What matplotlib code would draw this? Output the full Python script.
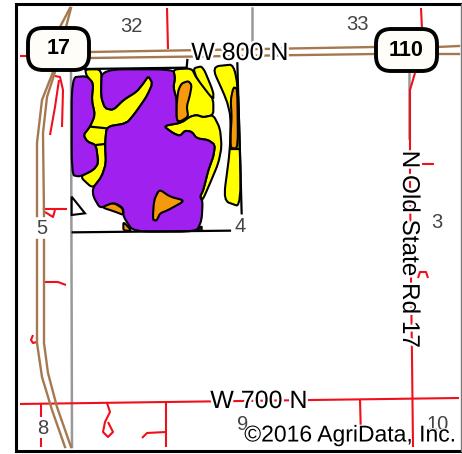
import matplotlib
matplotlib.use("Agg")
import matplotlib.pyplot as plt
import matplotlib.patheffects as pe
from matplotlib.patches import PathPatch, FancyBboxPatch
from matplotlib.path import Path

plt.rcParams['font.family'] = ['Liberation Sans', 'DejaVu Sans']

yellowAreas = [
    [(255, 208), (305, 208), (303, 290), (315, 325), (340, 330), (370, 300), (410, 275), (430, 250), (445, 228),
     (458, 250), (440, 290), (405, 340), (380, 370), (320, 380), (315, 432), (318, 490), (305, 530), (278, 565),
     (240, 530), (280, 510), (295, 490), (288, 435), (262, 425), (250, 405), (270, 380), (285, 345), (275, 300),
     (280, 250), (260, 228)],
    [(520, 208), (575, 205), (590, 235), (620, 262), (640, 300), (640, 345), (610, 352), (590, 345), (570, 350),
     (545, 368), (530, 360), (530, 300), (520, 262), (525, 235)],
    [(490, 378), (545, 368), (570, 350), (590, 345), (610, 352), (640, 345), (660, 385), (665, 440), (655, 490),
     (630, 550), (608, 600), (600, 590), (610, 570), (625, 510), (640, 470), (645, 435), (625, 420), (590, 415),
     (575, 395), (555, 392), (540, 408), (520, 400)],
    [(580, 205), (608, 198), (640, 275), (640, 300), (590, 235)],
    [(635, 200), (712, 192), (725, 622), (670, 602), (690, 450), (692, 350), (680, 300)],
]
purpleAreas = [
    [(305, 208), (520, 208), (525, 235), (520, 262), (530, 300), (530, 360), (545, 368), (490, 378), (520, 400),
     (540, 408), (555, 392), (575, 395), (590, 415), (625, 420), (645, 435), (640, 470), (625, 510), (610, 570),
     (600, 590), (608, 605), (605, 660), (590, 695), (400, 695), (370, 650), (370, 625), (345, 608), (300, 625),
     (280, 590), (278, 565), (305, 530), (318, 490), (315, 432), (320, 380), (380, 370), (405, 340), (440, 290),
     (458, 250), (445, 228), (430, 250), (410, 275), (370, 300), (340, 330), (315, 325), (303, 290)],
    [(215, 232), (260, 228), (280, 250), (275, 300), (285, 345), (270, 380), (250, 405), (262, 425), (288, 435),
     (295, 490), (280, 510), (240, 530), (215, 525)],
]
orangeAreas = [
    [(545, 250), (565, 243), (575, 255), (570, 285), (560, 320), (565, 350), (540, 365), (530, 360), (530, 310),
     (535, 270)],
    [(700, 262), (712, 265), (714, 445), (692, 445), (692, 400), (695, 350), (692, 300)],
    [(458, 660), (462, 600), (478, 568), (510, 590), (555, 602), (505, 630), (480, 640), (470, 662)],
    [(305, 622), (340, 608), (368, 625), (370, 645), (345, 635)],
    [(370, 665), (395, 692), (370, 692)],
    [(590, 692), (605, 678), (605, 692)],
]
whiteTriangle = [(215, 590), (255, 640), (215, 645)]
fieldLines = [
    [(218, 697), (690, 692)],
    [(712, 190), (725, 640)],
    [(255, 207), (560, 203), (562, 180)],
    [(272, 380), (320, 385)],
    [(288, 435), (315, 432)],
    [(692, 447), (714, 447)],
]

# already in picture pixels
roadLines = [
    [(70, 8), (60, 27)], [(53, 72), (42, 100), (37, 143), (37, 216)],
    [(37, 240), (37, 343), (42, 377), (52, 410), (65, 447)],
    [(71, 8), (66, 27)], [(55, 72), (47, 97), (43, 133), (44, 216)],
    [(44, 240), (44, 343), (48, 373), (57, 407), (71, 447)],
    [(90, 52), (375, 47)], [(90, 58), (375, 54)],
    [(437, 47), (459, 46)], [(437, 54), (459, 54)],
]
redLines = [
    [(167, 8), (168, 49)], [(20, 56), (28, 56)],
    [(55, 76), (60, 77), (63, 90), (62, 127)], [(59, 80), (55, 107), (50, 135)],
    [(43, 208), (45, 209), (67, 209)], [(45, 212), (53, 217), (55, 210)],
    [(44, 282), (58, 282), (66, 285)], [(33, 335), (31, 340), (33, 343), (37, 342)],
    [(20, 404), (459, 398)],
    [(41, 404), (41, 417)], [(41, 438), (41, 447)],
    [(107, 403), (110, 412), (105, 422), (103, 432), (108, 437), (113, 432), (108, 422)],
    [(166, 403), (166, 447)], [(142, 438), (147, 433), (166, 432)],
    [(360, 400), (361, 437)],
    [(421, 8), (422, 29)], [(415, 73), (410, 90), (410, 180), (411, 280), (412, 357), (413, 447)],
    [(415, 164), (434, 164)], [(415, 164), (413, 168)],
    [(418, 278), (420, 272), (426, 272), (428, 278)],
]
grayLines = [[(71, 72), (72, 447)], [(252, 8), (252, 42)], [(409, 73), (409, 138)]]

sectionNumbers = ["32", "33", "5", "4", "3", "8", "9", "10"]
sectionX = [131, 357, 42, 240, 437, 43, 243, 438]
sectionY = [27, 25, 229, 226, 222, 428, 425, 425]

shieldLabels = ["17", "110"]
shieldBoxes = [(28, 28, 61, 42), (376, 29, 61, 42)]


def softShape(points):
    # closed path with only the corners eased, the long edges stay where they were traced
    pts = [(x / 3, y / 3) for x, y in points]
    verts = []
    codes = []
    for i, p in enumerate(pts):
        prev = pts[i - 1]
        nxt = pts[(i + 1) % len(pts)]
        start = (p[0] + 0.3 * (prev[0] - p[0]), p[1] + 0.3 * (prev[1] - p[1]))
        end = (p[0] + 0.3 * (nxt[0] - p[0]), p[1] + 0.3 * (nxt[1] - p[1]))
        verts += [start, p, end]
        codes += [Path.LINETO if i else Path.MOVETO, Path.CURVE3, Path.CURVE3]
    verts.append(verts[0])
    codes.append(Path.LINETO)
    return Path(verts, codes)


fig = plt.figure(figsize=(4.62, 4.54), dpi=100)
ax = fig.add_axes([0, 0, 1, 1])
ax.set_xlim(0, 462)
ax.set_ylim(454, 0)
ax.axis('off')

for line in grayLines:
    ax.plot(*zip(*line), color='#999999', lw=1.8, zorder=1)
for line in redLines:
    ax.plot(*zip(*line), color='#f0101c', lw=1.5, zorder=2, solid_capstyle='butt')
for line in roadLines:
    ax.plot(*zip(*line), color='#a5794f', lw=1.7, zorder=3)

for shape in yellowAreas:
    ax.add_patch(PathPatch(softShape(shape), fc='#ffff00', ec='black', lw=1.5, zorder=4))
for shape in purpleAreas:
    ax.add_patch(PathPatch(softShape(shape), fc='#a020f0', ec='black', lw=1.5, zorder=5))
for shape in orangeAreas:
    ax.add_patch(PathPatch(softShape(shape), fc='#f59a0c', ec='black', lw=1.5, zorder=6))
ax.fill(*zip(*[(x / 3, y / 3) for x, y in whiteTriangle]), fc='white', ec='black', lw=1.5, zorder=6)
for line in fieldLines:
    ax.plot([p[0] / 3 for p in line], [p[1] / 3 for p in line], color='black', lw=1.6, zorder=7)

for label, x, y in zip(sectionNumbers, sectionX, sectionY):
    ax.text(x, y, label, color='#444444', fontsize=14.5, ha='center', va='center', zorder=8)

halo = [pe.withStroke(linewidth=3.5, foreground='white')]
ax.text(240, 53, "W 800 N", fontsize=18, ha='center', va='center', zorder=9, path_effects=halo)
ax.text(259, 401, "W 700 N", fontsize=18, ha='center', va='center', zorder=9, path_effects=halo)
ax.text(409, 249, "N Old State Rd 17", fontsize=17.5, rotation=270, ha='center', va='center', zorder=9,
        path_effects=halo)
ax.text(350, 435, "\u00a92016 AgriData, Inc.", fontsize=16.5, ha='center', va='center', zorder=9,
        path_effects=[pe.withStroke(linewidth=1.5, foreground='white')])

for label, (x, y, w, h) in zip(shieldLabels, shieldBoxes):
    ax.add_patch(FancyBboxPatch((x + 13, y + 13), w - 26, h - 26, boxstyle='round,pad=13,rounding_size=15',
                                fc='#fffdf8', ec='black', lw=2.8, zorder=10))
    ax.text(x + w / 2, y + h / 2, label, fontsize=15.5, fontweight='bold', ha='center', va='center', zorder=11)

# frame: black on three sides, a thin grey line on the right
ax.plot([461, 15.5, 15.5, 461], [4, 4, 451, 451], color='black', lw=2.2, zorder=12, solid_joinstyle='miter')
ax.plot([461, 461], [4, 451], color='#777777', lw=1, zorder=12)

fig.savefig("out.png", dpi=100)
